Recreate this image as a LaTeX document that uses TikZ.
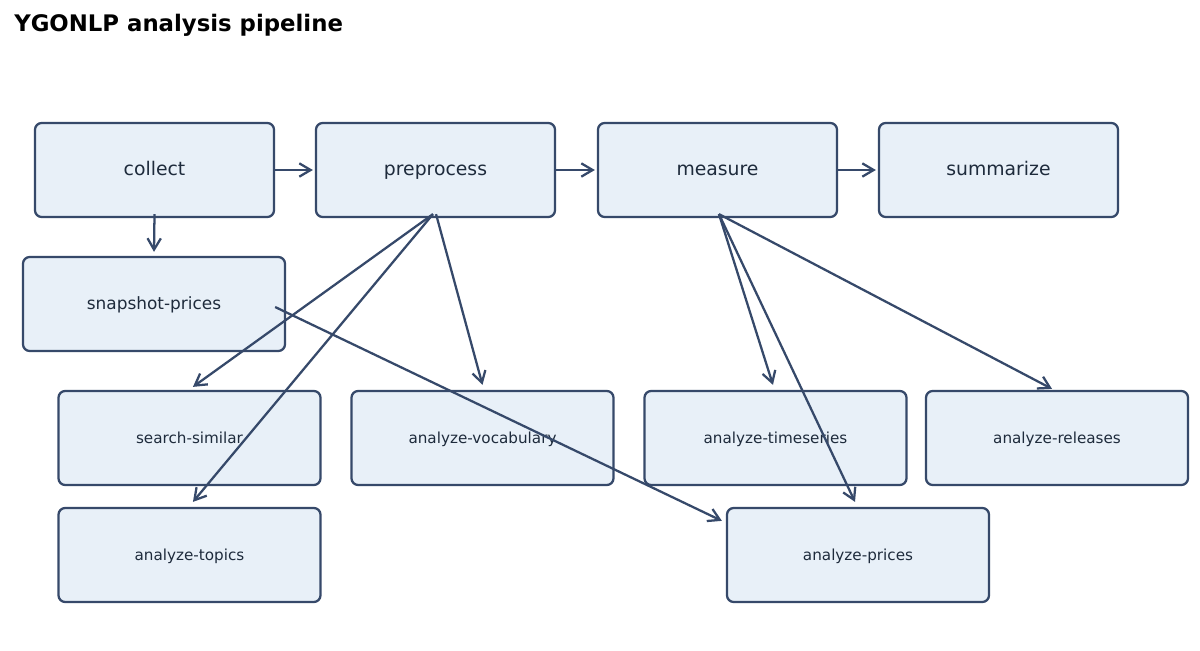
\documentclass[tikz,border=0pt]{standalone}
\usepackage{fontspec}
\setmainfont{DejaVu Sans}
\usetikzlibrary{arrows.meta}
\definecolor{boxfill}{HTML}{E8F0F8}
\definecolor{boxdraw}{HTML}{36496A}
\definecolor{txt}{HTML}{1E2B3C}
\tikzset{
  box/.style={draw=boxdraw, fill=boxfill, line width=1.7pt, rounded corners=5pt,
    text=txt, inner sep=0pt, minimum height=70.5pt, text height=1.8ex, text depth=0.25ex},
  topbox/.style={box, minimum width=179.25pt, font=\fontsize{14.1}{16}\selectfont},
  lowbox/.style={box, minimum width=196.5pt, font=\fontsize{11.4}{13}\selectfont},
  conn/.style={draw=boxdraw, line width=1.7pt, -{Straight Barb[length=8.5pt,width=10pt,line width=1.7pt]}},
}
\begin{document}
\begin{tikzpicture}[x=0.75pt,y=-0.75pt]
\useasboundingbox[fill=white] (0,0) rectangle (1200,650);
\node[anchor=base west, font=\bfseries\fontsize{17.1}{20}\selectfont, text=black, inner sep=0pt] (title) at (14,31) {YGONLP analysis pipeline};

\node[topbox] (collect) at (154.5,170) {collect};
\node[topbox] (pre) at (435.5,170) {preprocess};
\node[topbox] (meas) at (717.5,170) {measure};
\node[topbox] (summ) at (998.5,170) {summarize};
\node[lowbox, font=\fontsize{12.7}{15}\selectfont] (snap) at (154,304) {snapshot-prices};
\node[lowbox] (ss) at (189.5,438) {search-similar};
\node[lowbox] (voc) at (482.5,438) {analyze-vocabulary};
\node[lowbox] (ts) at (775.5,438) {analyze-timeseries};
\node[lowbox] (rel) at (1057,438) {analyze-releases};
\node[lowbox] (top) at (189.5,555) {analyze-topics};
\node[lowbox] (pr) at (858,555) {analyze-prices};

\draw[conn] (collect.east) -- ([xshift=-1.5pt]pre.west);
\draw[conn] (pre.east) -- ([xshift=-1.5pt]meas.west);
\draw[conn] (meas.east) -- ([xshift=-1.5pt]summ.west);
\draw[conn] ([yshift=3pt]collect.south) -- ([yshift=3pt]snap.north);
\draw[conn] ([xshift=-1.9pt,yshift=3pt]pre.south) -- ([xshift=2.6pt,yshift=2.25pt]ss.north);
\draw[conn] ([xshift=-1.9pt,yshift=3pt]pre.south) -- ([xshift=2.6pt,yshift=3.75pt]top.north);
\draw[conn] ([xshift=0.4pt,yshift=3pt]pre.south) -- ([yshift=3.75pt]voc.north);
\draw[conn] ([xshift=1.1pt,yshift=3pt]meas.south) -- ([xshift=-1.9pt,yshift=3.75pt]ts.north);
\draw[conn] ([xshift=1.1pt,yshift=3pt]meas.south) -- ([xshift=-2.25pt,yshift=3.75pt]pr.north);
\draw[conn] ([xshift=1.1pt,yshift=3pt]meas.south) -- ([xshift=-3.75pt,yshift=0.75pt]rel.north);
\draw[conn] ([xshift=-8.25pt,yshift=-2.25pt]snap.east) -- ([xshift=-3pt,yshift=-10.5pt]pr.north west);
\end{tikzpicture}
\end{document}
